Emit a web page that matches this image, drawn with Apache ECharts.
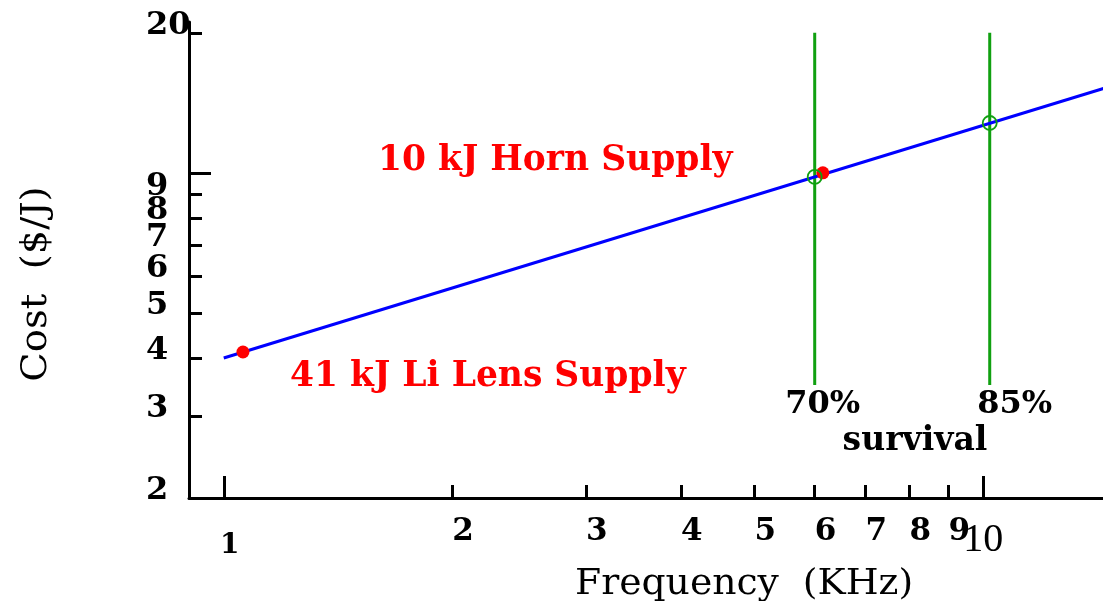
<!DOCTYPE html>
<html>
<head>
<meta charset="utf-8">
<script src="https://cdn.jsdelivr.net/npm/echarts@6/dist/echarts.min.js"></script>
<style>
html, body { margin: 0; padding: 0; background: #fff; }
#chart { width: 1103px; height: 601px; }
</style>
</head>
<body>
<div id="chart"></div>
<script>
// Cost per joule of stored energy against pulse frequency, log-log scales.
const costCurve = [[1, 4], [16, 16]];              // cost trend, $/J
const supplyPoints = [[1.06, 4.12], [6.15, 10.0]];  // 41 kJ Li lens, 10 kJ horn
const survivalFreq = [6.0, 10.2];                   // kHz at 70% and 85% survival
const survivalCost = [9.8, 12.8];                   // $/J where the curve meets them
const survivalLabels = ['70%', '85%'];
const survivalSpan = [3.5, 20];                     // vertical extent of the markers
const xMinorTicks = [2, 3, 4, 5, 6, 7, 8, 9];
const xMajorTicks = [1, 10];
const yMinorTicks = [2, 3, 4, 5, 6, 7, 8, 9, 20];
const yMajorTicks = [10];
const xRange = [0.9, 14.38];
const yRange = [2, 21.1];

const SERIF = "'DejaVu Serif', 'Liberation Serif', serif";
const RED = '#ff0000';
const BLUE = '#0000ff';
const GREEN = '#10a010';

const chart = echarts.init(document.getElementById('chart'), null, { renderer: 'canvas' });

const axisLine = { show: true, onZero: false, lineStyle: { color: '#000', width: 3 } };

function logAxis(range, extra) {
  return Object.assign({
    type: 'log', logBase: 10, min: range[0], max: range[1],
    splitLine: { show: false }, minorTick: { show: false }, minorSplitLine: { show: false }
  }, extra);
}

const survivalSeries = survivalFreq.map((f, i) => ({
  name: 'survival ' + survivalLabels[i],
  type: 'line',
  data: [[f, survivalSpan[0]], [f, survivalSpan[1]]],
  showSymbol: false,
  lineStyle: { color: GREEN, width: 3 },
  z: 2,
  silent: true
}));

const option = {
  animation: false,
  backgroundColor: '#fff',
  grid: { left: 189, right: 0, top: 22, bottom: 103, containLabel: false },
  xAxis: [
    logAxis(xRange, {
      position: 'bottom',
      axisLine: axisLine,
      axisTick: { show: true, inside: true, length: 13, customValues: xMinorTicks,
                  lineStyle: { color: '#000', width: 3 } },
      axisLabel: { show: true, customValues: xMinorTicks, align: 'left', margin: 18,
                   fontFamily: SERIF, fontWeight: 'bold', fontSize: 31, color: '#000' }
    }),
    logAxis(xRange, {
      position: 'bottom',
      axisLine: { show: false },
      axisTick: { show: true, inside: true, length: 22, customValues: xMajorTicks,
                  lineStyle: { color: '#000', width: 3 } },
      axisLabel: {
        show: true, customValues: xMajorTicks, align: 'center', verticalAlign: 'bottom', margin: 62,
        formatter: v => (v < 5 ? '{s|' + v + '}' : '{l|' + v + '}'),
        rich: {
          s: { fontFamily: SERIF, fontWeight: 'bold', fontSize: 28, color: '#000', padding: [0, 0, 0, 12] },
          l: { fontFamily: "'Liberation Serif', serif", fontSize: 40, color: '#000' }
        }
      }
    })
  ],
  yAxis: [
    logAxis(yRange, {
      position: 'left',
      axisLine: axisLine,
      axisTick: { show: true, inside: true, length: 13, customValues: yMinorTicks,
                  lineStyle: { color: '#000', width: 3 } },
      axisLabel: { show: true, customValues: yMinorTicks, align: 'left', verticalAlign: 'bottom',
                   lineHeight: 14, margin: 43,
                   fontFamily: SERIF, fontWeight: 'bold', fontSize: 32, color: '#000' }
    }),
    logAxis(yRange, {
      position: 'left',
      axisLine: { show: false },
      axisTick: { show: true, inside: true, length: 22, customValues: yMajorTicks,
                  lineStyle: { color: '#000', width: 3 } },
      axisLabel: { show: false }
    })
  ],
  series: [
    {
      name: 'cost',
      type: 'line',
      data: costCurve,
      showSymbol: false,
      clip: true,
      lineStyle: { color: BLUE, width: 3 },
      z: 3,
      silent: true
    },
    {
      name: 'supplies',
      type: 'scatter',
      data: supplyPoints,
      symbol: 'circle',
      symbolSize: 13,
      itemStyle: { color: RED, opacity: 1 },
      z: 4,
      silent: true
    },
    ...survivalSeries,
    {
      name: 'survival points',
      type: 'scatter',
      data: survivalFreq.map((f, i) => [f, survivalCost[i]]),
      symbol: 'circle',
      symbolSize: 14,
      itemStyle: { color: 'rgba(0,0,0,0)', borderColor: GREEN, borderWidth: 1.8, opacity: 1 },
      z: 5,
      silent: true
    }
  ]
};

chart.setOption(option);

// Text annotations; the survival percentages hang off the foot of their marker lines.
function px(x, y) { return chart.convertToPixel({ gridIndex: 0 }, [x, y]); }

function textEl(text, x, y, font, fill, align, opts) {
  return Object.assign({
    type: 'text', x: x, y: y, silent: true,
    style: { text: text, font: font, fill: fill,
             align: align, verticalAlign: 'middle', textAlign: align, textVerticalAlign: 'middle' }
  }, opts || {});
}

const boldFont = "bold 32px " + SERIF;
const labelFont = "bold 34.5px " + SERIF;
const plainFont = "35px " + SERIF;
const survivalLabelShift = [8, 25];

const graphics = [
  textEl('10 kJ Horn Supply', 378, 161, labelFont, RED, 'left'),
  textEl('41 kJ Li Lens Supply', 290, 377, labelFont, RED, 'left'),
  textEl('Frequency  (KHz)', 575, 585, plainFont, '#000', 'left', { scaleX: 1.077 }),
  textEl('Cost  ($/J)', 37, 284, plainFont, '#000', 'center', { rotation: Math.PI / 2, scaleX: 1.1 })
];

survivalFreq.forEach((f, i) => {
  const p = px(f, survivalSpan[0]);
  graphics.push(textEl(survivalLabels[i], p[0] + survivalLabelShift[i], p[1] + 20, boldFont, '#000', 'center'));
});
graphics.push(textEl('survival', 915, 441, "bold 33px " + SERIF, '#000', 'center'));

chart.setOption({ graphic: { elements: graphics } });
</script>
</body>
</html>
